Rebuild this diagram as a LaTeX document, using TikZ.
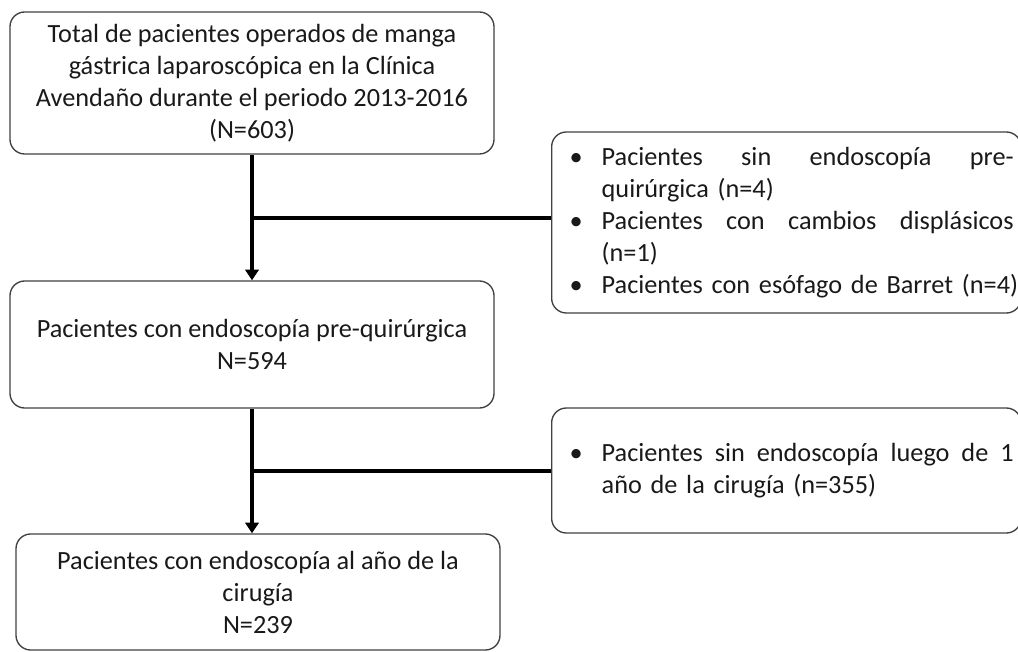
\documentclass[tikz,border=0pt]{standalone}
\usepackage{fontspec}
\setmainfont{Carlito}
\usetikzlibrary{arrows.meta}
\begin{document}
\begin{tikzpicture}[x=0.75pt,y=-0.75pt,
  box/.style={draw=black!75, line width=1pt, rounded corners=11pt, align=center,
    font=\fontsize{19.7}{24}\selectfont, inner sep=0pt, text=black!90},
  sidebox/.style={box, align=left, text width=325pt, inner xsep=13.5pt, anchor=west},
  conn/.style={line width=2.3pt, black},
  arr/.style={conn, -{Triangle[width=10pt,length=8pt]}}]
\useasboundingbox (0,0) rectangle (1018,652);
\newcommand{\bul}{\makebox[24pt][l]{\textbullet}}
\newcommand{\ind}{\hspace*{24pt}}
\newcommand{\jline}[1]{\hbox to 309pt{#1}}
\node[box, minimum width=363pt, minimum height=106.5pt] (b1) at (252,83)
  {Total de pacientes operados de manga\\gástrica laparoscópica en la Clínica\\Avendaño durante el periodo 2013-2016\\(N=603)};
\node[box, minimum width=363pt, minimum height=95.25pt] (b2) at (252,344.5)
  {Pacientes con endoscopía pre-quirúrgica\\N=594};
\node[box, minimum width=363pt, minimum height=87pt] (b3) at (258,592)
  {Pacientes con endoscopía al año de la\\cirugía\\N=239};
\node[sidebox, minimum height=135.75pt] (r1) at (551,222.5)
  {\bul\jline{Pacientes\hfill sin\hfill endoscopía\hfill pre-}\\
   \ind quirúrgica (n=4)\\
   \bul\jline{Pacientes\hfill con\hfill cambios\hfill displásicos}\\
   \ind (n=1)\\
   \bul\jline{Pacientes con esófago de Barret (n=4)\hss}};
\node[sidebox, minimum height=93.75pt] (r2) at (551,470.5)
  {\bul\jline{Pacientes\hfill sin\hfill endoscopía\hfill luego\hfill de\hfill 1}\\
   \ind año de la cirugía (n=355)};
\coordinate (j1) at (252,218);
\coordinate (j2) at (252,471);
\draw[arr] (b1.south) -- (b2.north);
\draw[arr] (b2.south) -- (b2.south |- b3.north);
\draw[conn] (j1) -- (r1.west |- j1);
\draw[conn] (j2) -- (r2.west |- j2);
\end{tikzpicture}
\end{document}
